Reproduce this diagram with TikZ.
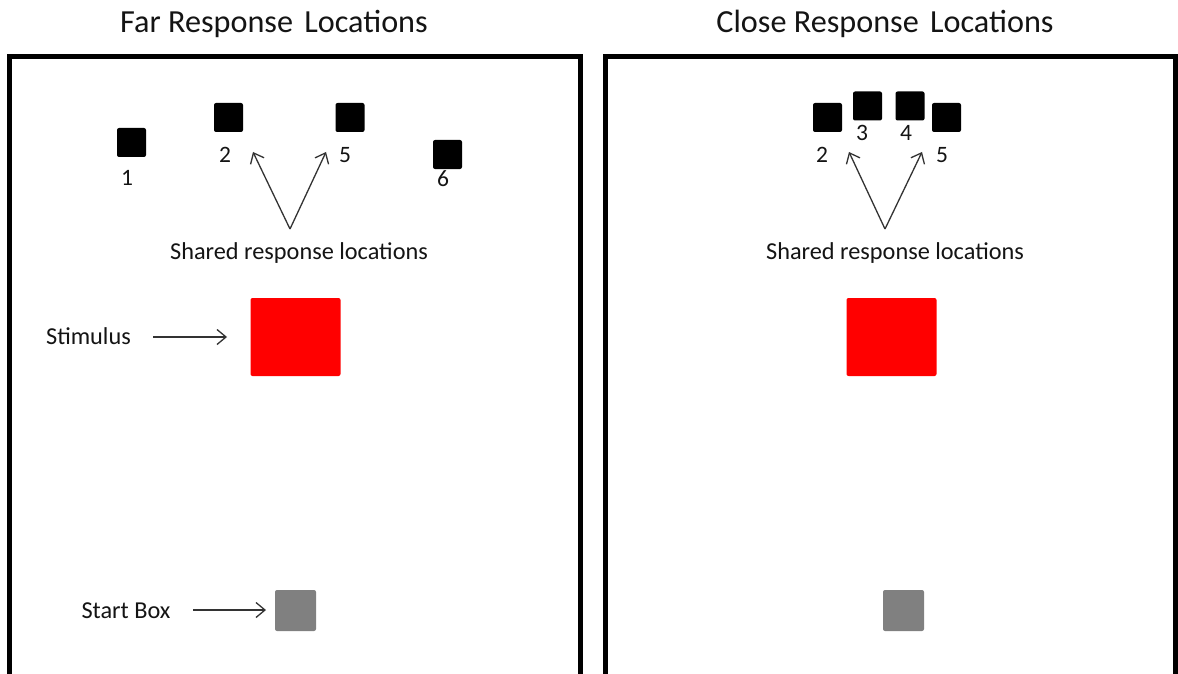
\documentclass[tikz,border=0pt]{standalone}
\usepackage{fontspec}
\setmainfont{Carlito}
\usetikzlibrary{arrows.meta}
\definecolor{sbgray}{RGB}{128,128,128}
\definecolor{txt}{RGB}{20,20,20}
\begin{document}
\begin{tikzpicture}[x=1pt,y=-1pt,
  panel/.style={line width=4.5pt,draw=black},
  resp/.style={fill=black,draw=none,rounded corners=2pt,minimum width=29pt,minimum height=29pt,inner sep=0pt},
  stim/.style={fill=red,draw=none,rounded corners=2pt,minimum width=90pt,minimum height=78pt,inner sep=0pt},
  startbox/.style={fill=sbgray,draw=none,rounded corners=2pt,minimum width=41pt,minimum height=41pt,inner sep=0pt},
  num/.style={font=\fontsize{23.5}{25}\selectfont,inner sep=0pt,text=txt},
  lbl/.style={font=\fontsize{24.3}{27}\selectfont,inner sep=0pt,anchor=base,text=txt},
  ttl/.style={font=\fontsize{32.2}{34}\selectfont,inner sep=0pt,anchor=base,text=txt},
  arr/.style={draw=black!80,line width=1.3pt,-{Straight Barb[length=9pt,width=15pt,line width=1.3pt]}}
]
\useasboundingbox (0,0) rectangle (1178,674);
\fill[white] (0,0) rectangle (1178,674);

% panels
\draw[panel] (9.5,700) -- (9.5,56.5) -- (580.5,56.5) -- (580.5,700);
\draw[panel] (605.5,700) -- (605.5,56.5) -- (1175.5,56.5) -- (1175.5,700);

% titles
\node[ttl] (t1) at (274,33) {Far Response\hspace{4pt} Locations};
\node[ttl] (t2) at (885,33) {Close Response\hspace{4pt} Locations};

% left panel response squares
\node[resp] (L1) at (131.5,142.5) {};
\node[resp] (L2) at (228.5,117.5) {};
\node[resp] (L5) at (350,117.5) {};
\node[resp] (L6) at (447.5,154.5) {};
\node[num] (nL1) at (127,178) {1};
\node[num] (nL2) at (225,155) {2};
\node[num] (nL5) at (345,155) {5};
\node[num] (nL6) at (443,179) {6};

% left shared arrows
\node[lbl] (sL) at (299,259) {Shared response locations};
\coordinate (aL) at (290,229);
\coordinate (aL1) at (253,152);
\coordinate (aL2) at (326,152);
\draw[arr] (aL) -- (aL1);
\draw[arr] (aL) -- (aL2);

% stimulus
\node[stim] (rL) at (295.5,337) {};
\node[lbl] (stimtxt) at (88.5,344) {Stimulus};
\coordinate (stimstart) at (153,337);
\coordinate (stimend) at (227,337);
\draw[arr] (stimstart) -- (stimend);

% start box
\node[startbox] (gL) at (295.5,610.5) {};
\node[lbl] (sbtxt) at (126,618) {Start Box};
\coordinate (sbstart) at (193,610);
\coordinate (sbend) at (266,610);
\draw[arr] (sbstart) -- (sbend);

% right panel response squares
\node[resp] (R2) at (827.5,117.5) {};
\node[resp] (R3) at (867.5,106) {};
\node[resp] (R4) at (910,106) {};
\node[resp] (R5) at (946.5,117.5) {};
\node[num] (nR2) at (822,155) {2};
\node[num] (nR3) at (862,133) {3};
\node[num] (nR4) at (906,133) {4};
\node[num] (nR5) at (942,155) {5};

\node[lbl] (sR) at (895,259) {Shared response locations};
\coordinate (aR) at (885,229);
\coordinate (aR1) at (849,152);
\coordinate (aR2) at (922,152);
\draw[arr] (aR) -- (aR1);
\draw[arr] (aR) -- (aR2);

\node[stim] (rR) at (891.5,337) {};
\node[startbox] (gR) at (903.5,610.5) {};
\end{tikzpicture}
\end{document}
